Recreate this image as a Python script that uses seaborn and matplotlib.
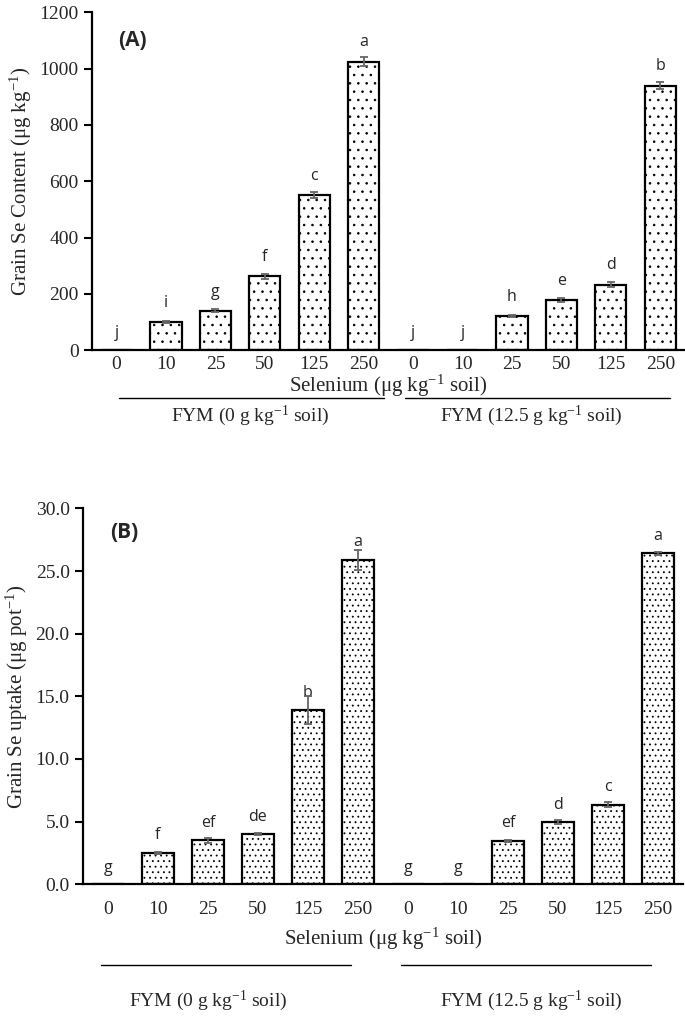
import pandas as pd
import matplotlib.pyplot as plt
import seaborn as sns

# data
se_levels = ["0", "10", "25", "50", "125", "250"]
fym_groups = ["FYM0", "FYM12.5"]

content_mean = [0, 100, 140, 262, 552, 1025, 0, 0, 122, 178, 233, 940]
content_err = [0, 3, 6, 8, 10, 15, 0, 0, 4, 6, 10, 12]
content_letters = ["j", "i", "g", "f", "c", "a", "j", "j", "h", "e", "d", "b"]

uptake_mean = [0, 2.5, 3.5, 4.0, 13.9, 25.9, 0, 0, 3.45, 4.95, 6.35, 26.4]
uptake_err = [0, 0.1, 0.2, 0.1, 1.1, 0.8, 0, 0, 0.1, 0.15, 0.2, 0.1]
uptake_letters = ["g", "f", "ef", "de", "b", "a", "g", "g", "ef", "d", "c", "a"]

sns.set_style("white")
plt.rcParams['font.family'] = ['Liberation Serif', 'DejaVu Serif']
plt.rcParams['mathtext.fontset'] = 'custom'
plt.rcParams['mathtext.rm'] = 'Liberation Serif'
plt.rcParams['mathtext.it'] = 'Liberation Serif:italic'
plt.rcParams['hatch.linewidth'] = 0.6

trt = [f"{g}_{s}" for g in fym_groups for s in se_levels]


def draw_panel(ax, means, errs, letters, ylim, yticks, yfmt, ylabel, tag,
               tag_pos, letter_off, zero_pos, hatch, tick_pad, xlabel_pad,
               lines, fym_x, fym_y, line_y):
    df = pd.DataFrame({"trt": trt, "value": means})
    sns.barplot(data=df, x="trt", y="value", order=trt, color="white",
                width=0.63, edgecolor="black", linewidth=1.6, ax=ax)
    for p in ax.patches:
        p.set_hatch(hatch)
    xs = [i for i, m in enumerate(means) if m > 0]
    ax.errorbar(xs, [means[i] for i in xs], yerr=[errs[i] for i in xs],
                fmt="none", ecolor="#666666", elinewidth=1.3, capsize=3,
                capthick=1.3, zorder=5)
    for i, (m, lab) in enumerate(zip(means, letters)):
        y = zero_pos if m == 0 else m + letter_off
        ax.text(i, y, lab, ha="center", va="center", fontsize=11.5,
                family=["Open Sans", "DejaVu Sans"])
    ax.set_xlim(-0.5, len(trt) - 0.5)
    ax.set_ylim(*ylim)
    ax.set_yticks(yticks)
    ax.set_yticklabels([yfmt.format(v) for v in yticks], fontsize=14)
    ax.set_xticks(list(range(len(trt))))
    ax.set_xticklabels(se_levels * 2, fontsize=14)
    ax.set_xticks([i - 0.5 for i in range(len(trt) + 1)], minor=True)
    ax.tick_params(axis="x", which="major", length=0, pad=tick_pad)
    ax.tick_params(axis="x", which="minor", length=6, width=1.5,
                   direction="out", color="black")
    ax.tick_params(axis="y", length=6, width=1.5, direction="out",
                   color="black", left=True)
    sns.despine(ax=ax)
    for s in ["left", "bottom"]:
        ax.spines[s].set_linewidth(1.6)
        ax.spines[s].set_color("black")
    ax.set_xlabel(r"Selenium ($\mathrm{\mu}$g kg$^{-1}$ soil)", fontsize=15,
                  labelpad=xlabel_pad)
    ax.set_ylabel(ylabel, fontsize=15, labelpad=4)
    ax.text(tag_pos[0], tag_pos[1], tag, transform=ax.transAxes, fontsize=15,
            fontweight="bold", family=["Open Sans", "DejaVu Sans"])
    tr = ax.get_xaxis_transform()
    for (x0, x1) in lines:
        ax.plot([x0, x1], [line_y, line_y], color="black", lw=1,
                transform=tr, clip_on=False)
    ax.text(fym_x[0], fym_y, r"FYM (0 g kg$^{-1}$ soil)", transform=tr,
            ha="center", va="center", fontsize=14)
    ax.text(fym_x[1], fym_y, r"FYM (12.5 g kg$^{-1}$ soil)", transform=tr,
            ha="center", va="center", fontsize=14)


fig = plt.figure(figsize=(6.85, 10.27), dpi=100)
ax1 = fig.add_axes([0.134, 0.659, 0.866, 0.329])
ax2 = fig.add_axes([0.121, 0.139, 0.876, 0.366])

draw_panel(ax1, content_mean, content_err, content_letters, (0, 1200),
           list(range(0, 1201, 200)), "{:.0f}",
           r"Grain Se Content ($\mathrm{\mu}$g kg$^{-1}$)", "(A)", (0.045, 0.9),
           68, 60, "..", 4, 0, [(0.06, 5.42), (5.83, 11.2)], (2.7, 8.4),
           -0.195, -0.14)

draw_panel(ax2, uptake_mean, uptake_err, uptake_letters, (0, 30),
           [0, 5, 10, 15, 20, 25, 30], "{:.1f}",
           r"Grain Se uptake ($\mathrm{\mu}$g pot$^{-1}$)", "(B)", (0.045, 0.92),
           1.4, 1.3, "...", 12, 6, [(-0.14, 4.86), (5.86, 10.86)], (2.0, 8.46),
           -0.31, -0.215)

fig.savefig("out.png", dpi=100)
